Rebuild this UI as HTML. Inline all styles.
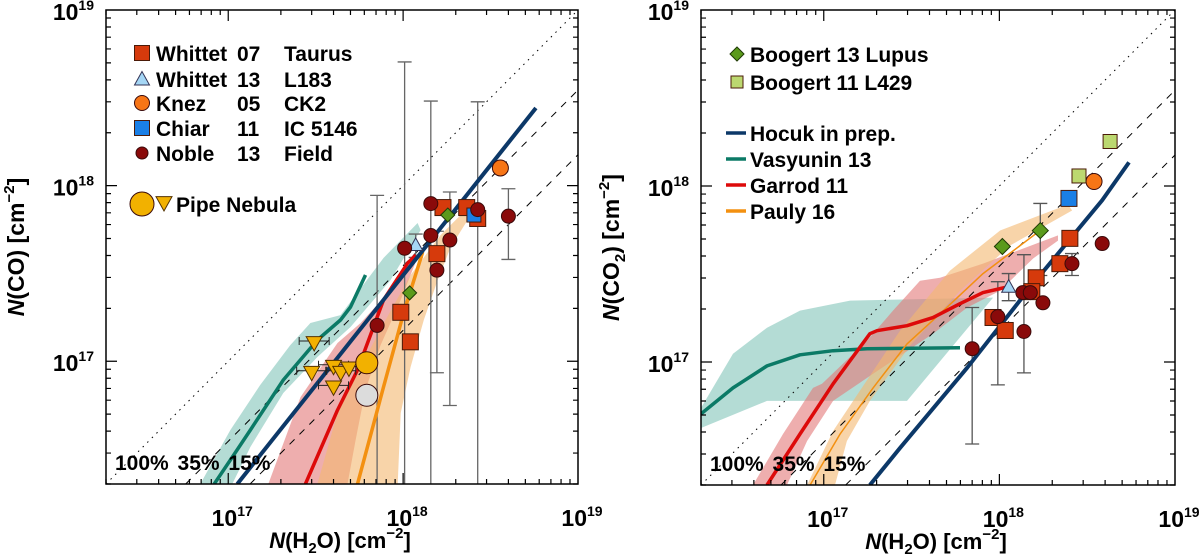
<!DOCTYPE html>
<html><head><meta charset="utf-8"><style>
html,body{margin:0;padding:0;background:#fff;width:1200px;height:560px;overflow:hidden;}
svg{display:block;font-family:"Liberation Sans",sans-serif;font-weight:bold;}
</style></head><body>
<svg id="chart" width="1200" height="560" viewBox="0 0 1200 560">
<g id="left"></g>
<g id="right"></g>
</svg>
<script>
// ---------- data (column densities, cm^-2) ----------
const tickDecades = [17, 18, 19];
const ratioValues = [1.0, 0.35, 0.15];
const ratioLabels = ["100%", "35%", "15%"];

// Left panel: N(CO) vs N(H2O)
const L_whittet07_x = [1.69e18, 2.31e18, 2.67e18, 1.56e18, 9.7e17, 1.1e18];
const L_whittet07_y = [7.5e17, 7.5e17, 6.5e17, 4.1e17, 1.9e17, 1.29e17];
const L_whittet13_x = [1.18e18];
const L_whittet13_y = [4.6e17];
const L_knez_x = [3.6e18];
const L_knez_y = [1.26e18];
const L_chiar_x = [2.54e18];
const L_chiar_y = [6.8e17];
const L_noble_x = [1.44e18, 2.67e18, 4.0e18, 1.44e18, 1.85e18, 1.02e18, 1.56e18, 7.1e17];
const L_noble_y = [7.9e17, 7.3e17, 6.7e17, 5.2e17, 4.9e17, 4.4e17, 3.3e17, 1.6e17];
const L_lupus_x = [1.8e18, 1.09e18];
const L_lupus_y = [6.8e17, 2.45e17];
const L_pipeCircle_x = [6.2e17, 6.2e17];
const L_pipeCircle_y = [9.8e16, 6.4e16];
const L_pipeTri_x = [3.1e17, 3.0e17, 4.0e17, 4.4e17, 4.9e17, 4.0e17];
const L_pipeTri_y = [1.27e17, 8.6e16, 9.3e16, 8.6e16, 9.1e16, 7.1e16];
const L_err_x = [1.02e18, 1.44e18, 2.67e18, 7.1e17, 1.85e18, 1.56e18, 4.0e18, 1.18e18];
const L_err_hi = [5.06e18, 3.03e18, 3.0e18, 8.8e17, 9.2e17, 5.5e17, 9.6e17, 5.3e17];
const L_err_lo = [2e16, 2e16, 2e16, 2e16, 5.6e16, 8.6e16, 3.8e17, 3.9e17];

// Left panel models (log10 values)
const L_hocuk_lx = [17.052, 18.759];
const L_hocuk_ly = [16.301, 18.442];
const L_vasy_lx = [16.920, 17.023, 17.126, 17.315, 17.510, 17.642, 17.699, 17.785];
const L_vasy_ly = [16.301, 16.454, 16.608, 16.893, 17.121, 17.235, 17.309, 17.491];
const L_vasyBand_lx = [16.840, 17.012, 17.183, 17.355, 17.470, 17.642, 17.888, 18.083, 18.100, 17.928, 17.699, 17.510, 17.315, 17.126, 17.023];
const L_vasyBand_ly = [16.301, 16.608, 16.865, 17.092, 17.218, 17.263, 17.588, 17.787, 17.747, 17.462, 17.195, 17.024, 16.819, 16.511, 16.301];
const L_garrod_lx = [17.441, 17.625, 17.739, 17.888, 18.026, 18.072];
const L_garrod_ly = [16.301, 16.722, 16.950, 17.349, 17.559, 17.605];
const L_garrodBand_lx = [17.229, 17.413, 17.625, 17.757, 17.928, 18.043, 18.072, 17.986, 17.871, 17.785, 17.728, 17.682];
const L_garrodBand_ly = [16.301, 16.796, 17.104, 17.218, 17.405, 17.542, 17.565, 17.349, 17.092, 16.836, 16.551, 16.301];
const L_paulyBand_lx = [17.510, 17.625, 17.757, 17.900, 18.043, 18.215, 18.358, 18.387, 18.272, 18.198, 18.118, 18.043, 17.986, 17.969];
const L_paulyBand_ly = [16.301, 16.705, 16.967, 17.235, 17.491, 17.719, 17.861, 17.833, 17.650, 17.462, 17.235, 16.967, 16.705, 16.301];
const L_pauly_lx = [17.739, 17.888, 18.003, 18.112];
const L_pauly_ly = [16.301, 16.853, 17.274, 17.622];

// Right panel: N(CO2) vs N(H2O)
const R_whittet07_x = [9.2e17, 1.08e18, 1.62e18, 1.53e18, 2.21e18, 2.52e18];
const R_whittet07_y = [1.79e17, 1.51e17, 3.01e17, 2.51e17, 3.62e17, 5.04e17];
const R_noble_x = [7.0e17, 9.8e17, 1.36e18, 1.5e18, 1.77e18, 1.38e18, 2.59e18, 3.85e18];
const R_noble_y = [1.19e17, 1.81e17, 2.48e17, 2.48e17, 2.17e17, 1.49e17, 3.62e17, 4.71e17];
const R_whittet13_x = [1.13e18];
const R_whittet13_y = [2.68e17];
const R_chiar_x = [2.49e18];
const R_chiar_y = [8.5e17];
const R_knez_x = [3.46e18];
const R_knez_y = [1.06e18];
const R_l429_x = [4.27e18, 2.84e18];
const R_l429_y = [1.79e18, 1.14e18];
const R_lupus_x = [1.04e18, 1.71e18];
const R_lupus_y = [4.53e17, 5.58e17];
const R_err_x = [7.0e17, 9.8e17, 1.38e18, 1.71e18, 1.13e18, 2.59e18];
const R_err_hi = [2.04e17, 2.86e17, 4.07e17, 7.96e17, 3.18e17, 4.13e17];
const R_err_lo = [3.42e16, 7.41e16, 8.67e16, 3.1e17, 2.23e17, 3.1e17];

// Right panel models (log10 values)
const R_hocuk_lx = [17.263, 17.434, 17.816, 18.192, 18.585, 18.738];
const R_hocuk_ly = [16.301, 16.511, 16.967, 17.445, 17.918, 18.134];
const R_vasy_lx = [16.301, 16.483, 16.677, 16.865, 17.053, 17.246, 17.776];
const R_vasy_ly = [16.705, 16.853, 16.978, 17.041, 17.064, 17.075, 17.081];
const R_vasyBand_lx = [16.301, 16.483, 16.677, 16.865, 17.150, 17.964, 17.474, 16.677, 16.301];
const R_vasyBand_ly = [16.739, 17.047, 17.195, 17.292, 17.349, 17.366, 16.779, 16.779, 16.625];
const R_garrod_lx = [16.677, 16.865, 17.053, 17.263, 17.303, 17.474, 17.622, 17.776, 17.907, 18.032];
const R_garrod_ly = [16.301, 16.591, 16.876, 17.161, 17.178, 17.206, 17.252, 17.331, 17.394, 17.423];
const R_garrodBand_lx = [16.597, 16.768, 16.939, 16.990, 17.246, 17.394, 17.548, 17.662, 17.907, 18.334, 18.334, 18.192, 18.004, 17.816, 17.622, 17.281, 17.053, 16.905, 16.791];
const R_garrodBand_ly = [16.301, 16.591, 16.853, 16.876, 17.121, 17.292, 17.462, 17.479, 17.559, 17.719, 17.690, 17.588, 17.405, 17.309, 17.161, 16.933, 16.779, 16.551, 16.301];
const R_paulyBand_lx = [16.905, 17.053, 17.206, 17.434, 17.719, 18.004, 18.391, 18.414, 18.061, 17.776, 17.491, 17.263, 17.132, 17.064];
const R_paulyBand_ly = [16.301, 16.608, 16.836, 17.178, 17.519, 17.747, 17.895, 17.861, 17.662, 17.405, 17.092, 16.779, 16.551, 16.301];
const R_pauly_lx = [16.922, 17.093, 17.281, 17.474, 17.662, 17.907, 18.232];
const R_pauly_ly = [16.301, 16.591, 16.853, 17.103, 17.274, 17.502, 17.747];

// ---------- drawing ----------
const NS = "http://www.w3.org/2000/svg";
const LMIN = Math.log10(2e16), LMAX = 19;
function mk(parent, tag, attrs, text) {
  const e = document.createElementNS(NS, tag);
  for (const k in attrs) e.setAttribute(k, attrs[k]);
  if (text !== undefined) e.textContent = text;
  parent.appendChild(e);
  return e;
}
function makeAxes(x0, y0, w, h) {
  return {
    xs: v => x0 + (Math.log10(v) - LMIN) / (LMAX - LMIN) * w,
    ys: v => y0 + h - (Math.log10(v) - LMIN) / (LMAX - LMIN) * h,
    x0, y0, w, h
  };
}
function clipId(g, ax, id) {
  const d = mk(g, "defs", {});
  const c = mk(d, "clipPath", {id});
  mk(c, "rect", {x: ax.x0, y: ax.y0, width: ax.w, height: ax.h});
  return "url(#" + id + ")";
}
function ptsLog(ax, lx, ly) {
  return lx.map((v, i) => ax.xs(Math.pow(10, v)).toFixed(1) + "," + ax.ys(Math.pow(10, ly[i])).toFixed(1)).join(" ");
}
function band(g, ax, lx, ly, fill, op, name) {
  const p = mk(g, "polygon", {points: ptsLog(ax, lx, ly), fill, "fill-opacity": op});
  
  
}
function line(g, ax, lx, ly, stroke, sw, name) {
  const p = mk(g, "polyline", {points: ptsLog(ax, lx, ly), fill: "none", stroke, "stroke-width": sw, "stroke-linejoin": "round"});
  
  
}
function ratioLines(g, ax) {
  ratioValues.forEach((r, i) => {
    const a = 2e16 / r, b = 1e19;
    const l = mk(g, "line", {x1: ax.xs(a), y1: ax.ys(a * r), x2: ax.xs(b), y2: ax.ys(b * r), stroke: "#000", "stroke-width": 1,
      "stroke-dasharray": i === 0 ? "1.5,5" : "7,7"});
    
    
  });
}
function errBars(g, ax, xs, hi, lo, color) {
  xs.forEach((x, i) => {
    const px = ax.xs(x), yt = Math.max(ax.ys(hi[i]), ax.y0), yb = Math.min(ax.ys(lo[i]), ax.y0 + ax.h);
    const e = mk(g, "path", {d: `M${px},${yt}V${yb}M${px - 7},${yt}H${px + 7}` + (lo[i] > 2.1e16 ? `M${px - 7},${yb}H${px + 7}` : ""), stroke: color, "stroke-width": 1.3, fill: "none"});
    
    
  });
}
function marker(g, type, cx, cy, s, fill, name) {
  let e;
  if (type === "sq") e = mk(g, "rect", {x: cx - s, y: cy - s, width: 2 * s, height: 2 * s, fill, stroke: "#4a1a08", "stroke-width": 1});
  else if (type === "ci") e = mk(g, "circle", {cx, cy, r: s, fill, stroke: "#3a0a0a", "stroke-width": 1});
  else if (type === "tri") e = mk(g, "polygon", {points: `${cx},${cy - s} ${cx - s},${cy + s * 0.8} ${cx + s},${cy + s * 0.8}`, fill, stroke: "#335", "stroke-width": 1});
  else if (type === "dtri") e = mk(g, "polygon", {points: `${cx - s},${cy - s * 0.8} ${cx + s},${cy - s * 0.8} ${cx},${cy + s}`, fill, stroke: "#553300", "stroke-width": 1});
  else if (type === "dia") e = mk(g, "polygon", {points: `${cx},${cy - s} ${cx + s},${cy} ${cx},${cy + s} ${cx - s},${cy}`, fill, stroke: "#1f3a05", "stroke-width": 1});
  
  
  return e;
}
function series(g, ax, type, xs, ys, s, fill, name) {
  xs.forEach((x, i) => marker(g, type, ax.xs(x), ax.ys(ys[i]), s, fill, name));
}
function frame(g, ax, yExp) {
  const {x0, y0, w, h} = ax;
  const r = mk(g, "rect", {x: x0, y: y0, width: w, height: h, fill: "none", stroke: "#000", "stroke-width": 1.5});
  
  
  let d = "";
  for (let dec = 16; dec <= 18; dec++) for (let m = 1; m <= 9; m++) {
    const v = m * Math.pow(10, dec);
    if (v < 2e16 || v > 1e19) continue;
    const len = m === 1 ? 11 : 5;
    const px = ax.xs(v), py = ax.ys(v);
    d += `M${px},${y0 + h}v${-len}M${px},${y0}v${len}M${x0},${py}h${len}M${x0 + w},${py}h${-len}`;
  }
  mk(g, "path", {d, stroke: "#000", "stroke-width": 1.2, fill: "none"});
  tickDecades.forEach(dec => {
    const v = Math.pow(10, dec);
    const tx = mk(g, "text", {x: ax.xs(v) + 4, y: y0 + h + 42, "text-anchor": "middle", "font-size": 23});
    
    
    mk(tx, "tspan", {}, "10");
    mk(tx, "tspan", {dy: -10, "font-size": 14}, String(dec));
    const ty = mk(g, "text", {x: x0 - 12, y: ax.ys(v) + 10, "text-anchor": "end", "font-size": 23});
    
    
    mk(ty, "tspan", {}, "10");
    mk(ty, "tspan", {dy: -10, "font-size": 14}, String(dec));
  });
  const xt = mk(g, "text", {x: x0 + w / 2 - 2, y: y0 + h + 64, "text-anchor": "middle", "font-size": 22});
  
  
  mk(xt, "tspan", {"font-style": "italic"}, "N");
  mk(xt, "tspan", {}, "(H");
  mk(xt, "tspan", {dy: 5, "font-size": 15}, "2");
  mk(xt, "tspan", {dy: -5}, "O)  [cm");
  mk(xt, "tspan", {dy: -10, "font-size": 15}, "−2");
  mk(xt, "tspan", {dy: 10}, "]");
  const cx = x0 - 82, cy = y0 + h / 2;
  const yt = mk(g, "text", {x: cx, y: cy, "text-anchor": "middle", "font-size": 23, transform: `rotate(-90 ${cx} ${cy})`});
  
  
  mk(yt, "tspan", {"font-style": "italic"}, "N");
  mk(yt, "tspan", {}, "(CO");
  if (yExp) mk(yt, "tspan", {dy: 6, "font-size": 15}, "2");
  mk(yt, "tspan", {dy: yExp ? -6 : 0}, ")  [cm");
  mk(yt, "tspan", {dy: -10, "font-size": 15}, "−2");
  mk(yt, "tspan", {dy: 10}, "]");
  const rl = mk(g, "text", {x: x0 + 9, y: y0 + h - 14, "font-size": 21, "word-spacing": "3"}, ratioLabels.join(" "));
  
  
}
function txt(g, x, y, s, name, size) {
  const t = mk(g, "text", {x, y, "font-size": size || 21}, s);
  
  
  return t;
}

const C = {navy: "#0c3868", teal: "#0b7a66", tealB: "#8ccabf", red: "#dd0a0a", pinkB: "#e27878", orange: "#f39010", orangeB: "#f4b870",
  whit: "#d63a0c", noble: "#8a0a0a", knez: "#f77516", chiar: "#1a7fe6", l183: "#a5d6f5", lupus: "#5b9a1c", l429: "#bcd870", pipe: "#f2b100"};

// ---- left panel ----
(function () {
  const g = document.getElementById("left");
  const ax = makeAxes(106, 10, 472, 474);
  const cp = clipId(g, ax, "clipL");
  const d = mk(g, "g", {"clip-path": cp});
  band(d, ax, L_vasyBand_lx, L_vasyBand_ly, C.tealB, 0.65, "vasyunin-band");
  band(d, ax, L_garrodBand_lx, L_garrodBand_ly, C.pinkB, 0.6, "garrod-band");
  band(d, ax, L_paulyBand_lx, L_paulyBand_ly, C.orangeB, 0.6, "pauly-band");
  ratioLines(d, ax);
  errBars(d, ax, L_err_x, L_err_hi, L_err_lo, "#666");
  line(d, ax, L_vasy_lx, L_vasy_ly, C.teal, 3.5, "vasyunin-model-line");
  line(d, ax, L_garrod_lx, L_garrod_ly, C.red, 3.5, "garrod-model-line");
  line(d, ax, L_pauly_lx, L_pauly_ly, C.orange, 3.5, "pauly-model-line");
  line(d, ax, L_hocuk_lx, L_hocuk_ly, C.navy, 4, "hocuk-model-line");
  L_pipeTri_x.forEach((x, i) => {
    const px = ax.xs(x), py = ax.ys(L_pipeTri_y[i]);
    mk(d, "path", {d: `M${px - 15},${py - 2}H${px + 15}M${px - 15},${py - 6}v8M${px + 15},${py - 6}v8`, stroke: "#222", "stroke-width": 1, fill: "none"});
  });
  series(d, ax, "dtri", L_pipeTri_x, L_pipeTri_y, 8, C.pipe, "pipe-nebula-triangle");
  series(d, ax, "ci", L_pipeCircle_x.slice(0, 1), L_pipeCircle_y.slice(0, 1), 11, C.pipe, "pipe-nebula-circle");
  series(d, ax, "ci", L_pipeCircle_x.slice(1), L_pipeCircle_y.slice(1), 11, "#dcdcdc", "pipe-nebula-circle-grey");
  series(d, ax, "sq", L_whittet07_x, L_whittet07_y, 8, C.whit, "whittet07-point");
  series(d, ax, "tri", L_whittet13_x, L_whittet13_y, 7, C.l183, "whittet13-point");
  series(d, ax, "dia", L_lupus_x, L_lupus_y, 7, C.lupus, "boogert13-point");
  series(d, ax, "sq", L_chiar_x, L_chiar_y, 7, C.chiar, "chiar11-point");
  series(d, ax, "ci", L_noble_x, L_noble_y, 7, C.noble, "noble13-point");
  series(d, ax, "ci", L_knez_x, L_knez_y, 8, C.knez, "knez05-point");
  frame(g, ax, false);
  // legend
  const lg = mk(g, "g", {});
  
  
  const rows = [["sq", C.whit, "Whittet", "07", "Taurus", 53], ["tri", C.l183, "Whittet", "13", "L183", 79], ["ci", C.knez, "Knez", "05", "CK2", 103], ["sq", C.chiar, "Chiar", "11", "IC 5146", 128], ["ci", C.noble, "Noble", "13", "Field", 153]];
  rows.forEach(r => {
    marker(lg, r[0], 142, r[5], r[0] === "ci" && r[1] === C.noble ? 6 : 7.5, r[1], "legend-marker");
    txt(lg, 156, r[5] + 8, r[2], "legend-entry");
    txt(lg, 237, r[5] + 8, r[3], "legend-entry");
    txt(lg, 284, r[5] + 8, r[4], "legend-entry");
  });
  marker(lg, "ci", 142, 204, 12, C.pipe, "legend-marker");
  marker(lg, "dtri", 164, 203, 8, C.pipe, "legend-marker");
  txt(lg, 176, 212, "Pipe Nebula", "legend-entry");
})();

// ---- right panel ----
(function () {
  const g = document.getElementById("right");
  const ax = makeAxes(701, 10, 474, 475);
  const cp = clipId(g, ax, "clipR");
  const d = mk(g, "g", {"clip-path": cp});
  band(d, ax, R_vasyBand_lx, R_vasyBand_ly, C.tealB, 0.65, "vasyunin-band");
  band(d, ax, R_garrodBand_lx, R_garrodBand_ly, C.pinkB, 0.6, "garrod-band");
  band(d, ax, R_paulyBand_lx, R_paulyBand_ly, C.orangeB, 0.6, "pauly-band");
  ratioLines(d, ax);
  errBars(d, ax, R_err_x, R_err_hi, R_err_lo, "#555");
  line(d, ax, R_vasy_lx, R_vasy_ly, C.teal, 3.5, "vasyunin-model-line");
  line(d, ax, R_pauly_lx, R_pauly_ly, C.orange, 1.5, "pauly-model-line");
  line(d, ax, R_garrod_lx, R_garrod_ly, C.red, 3.5, "garrod-model-line");
  line(d, ax, R_hocuk_lx, R_hocuk_ly, C.navy, 4, "hocuk-model-line");
  series(d, ax, "sq", R_whittet07_x, R_whittet07_y, 8, C.whit, "whittet07-point");
  series(d, ax, "ci", R_noble_x, R_noble_y, 7, C.noble, "noble13-point");
  series(d, ax, "tri", R_whittet13_x, R_whittet13_y, 7, C.l183, "whittet13-point");
  series(d, ax, "sq", R_chiar_x, R_chiar_y, 8, C.chiar, "chiar11-point");
  series(d, ax, "ci", R_knez_x, R_knez_y, 8, C.knez, "knez05-point");
  series(d, ax, "sq", R_l429_x, R_l429_y, 7, C.l429, "boogert11-point");
  series(d, ax, "dia", R_lupus_x, R_lupus_y, 8, C.lupus, "boogert13-point");
  frame(g, ax, true);
  const lg = mk(g, "g", {});
  
  
  marker(lg, "dia", 737, 54, 7, C.lupus, "legend-marker");
  txt(lg, 750, 62, "Boogert  13  Lupus", "legend-entry");
  marker(lg, "sq", 737, 82, 6, C.l429, "legend-marker");
  txt(lg, 750, 90, "Boogert  11  L429", "legend-entry");
  [[C.navy, "Hocuk in prep.", 133], [C.teal, "Vasyunin  13", 159], [C.red, "Garrod  11", 185], [C.orange, "Pauly  16", 211]].forEach(r => {
    const l = mk(lg, "line", {x1: 726, x2: 746, y1: r[2], y2: r[2], stroke: r[0], "stroke-width": 3.5});
    
    
    txt(lg, 750, r[2] + 8, r[1], "legend-entry");
  });
})();
</script>
</body></html>
